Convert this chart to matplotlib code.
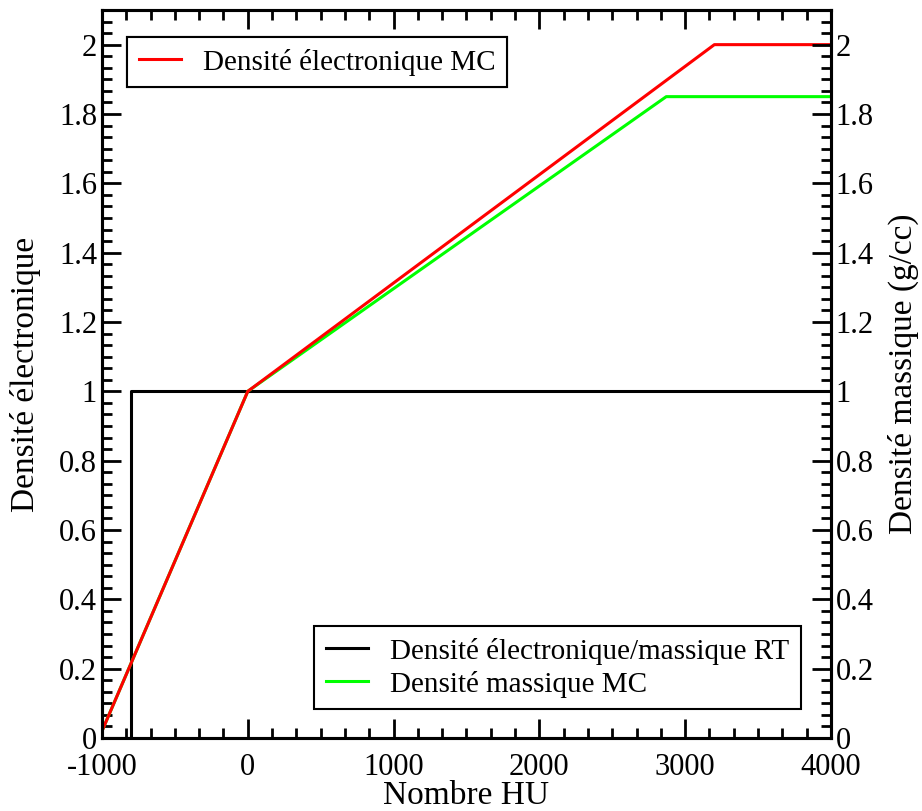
# Densité électronique / massique en fonction du nombre HU
# (courbes de conversion RT et MC)

import numpy as np
import matplotlib.pyplot as plt
from matplotlib.ticker import MultipleLocator, FormatStrFormatter

# Données des courbes de conversion
hu_rt = [-1000, -800, -800, 4000]
dens_rt = [0.0, 0.0, 1.0, 1.0]

hu_mc_elec = [-1000, 0, 3200, 4000]
dens_mc_elec = [0.02, 1.0, 2.0, 2.0]

hu_mc_mass = [-1000, 0, 2870, 4000]
dens_mc_mass = [0.02, 1.0, 1.85, 1.85]

plt.rcParams['font.family'] = ['Liberation Serif', 'DejaVu Serif']
plt.rcParams['axes.unicode_minus'] = False

fig = plt.figure(figsize=(9.22, 8.11), dpi=100)
ax = fig.add_axes([0.1106, 0.09, 0.7907, 0.8977])

l_rt, = ax.plot(hu_rt, dens_rt, color='black', linewidth=2.2)
l_mass, = ax.plot(hu_mc_mass, dens_mc_mass, color='#00ff00', linewidth=2.2)
l_elec, = ax.plot(hu_mc_elec, dens_mc_elec, color='#ff0000', linewidth=2.2)

ax.set_xlim(-1000, 4000)
ax.set_ylim(0, 2.1)

ax.xaxis.set_major_locator(MultipleLocator(1000))
ax.xaxis.set_minor_locator(MultipleLocator(1000 / 6))
ax.yaxis.set_major_locator(MultipleLocator(0.2))
ax.yaxis.set_minor_locator(MultipleLocator(0.2 / 6))
ax.yaxis.set_major_formatter(FormatStrFormatter('%g'))

ax.set_xlabel('Nombre HU', fontsize=24, labelpad=-1)
ax.set_ylabel('Densité électronique', fontsize=24, labelpad=13)

# Axe de droite : densité massique
ax2 = ax.twinx()
ax2.set_ylim(ax.get_ylim())
ax2.yaxis.set_major_locator(MultipleLocator(0.2))
ax2.yaxis.set_minor_locator(MultipleLocator(0.2 / 6))
ax2.yaxis.set_major_formatter(FormatStrFormatter('%g'))
ax2.set_ylabel('Densité massique (g/cc)', fontsize=24, rotation=90, labelpad=10)

for a in (ax, ax2):
    for s in a.spines.values():
        s.set_linewidth(2.2)
    a.tick_params(which='both', direction='in', width=2, labelsize=22)
    a.tick_params(which='major', length=14)
    a.tick_params(which='minor', length=7)
ax.tick_params(which='both', top=True, right=False)
ax.tick_params(axis='x', pad=11)
ax2.tick_params(which='both', right=True, left=False)

leg_kw = dict(loc='upper left', bbox_transform=fig.transFigure, fontsize=21,
              fancybox=False, framealpha=1, edgecolor='black', borderaxespad=0,
              handlelength=1.45, handletextpad=0.75, borderpad=0.4, labelspacing=0.2)

leg1 = ax.legend([l_elec], ['Densité électronique MC'],
                 bbox_to_anchor=(127 / 922, 1 - 37 / 811), **leg_kw)
leg1.get_frame().set_linewidth(1.5)
ax.add_artist(leg1)

leg2 = ax2.legend([l_rt, l_mass], ['Densité électronique/massique RT', 'Densité massique MC'],
                  bbox_to_anchor=(314 / 922, 1 - 626 / 811), **leg_kw)
leg2.get_frame().set_linewidth(1.5)

fig.savefig('out.png', dpi=100)
